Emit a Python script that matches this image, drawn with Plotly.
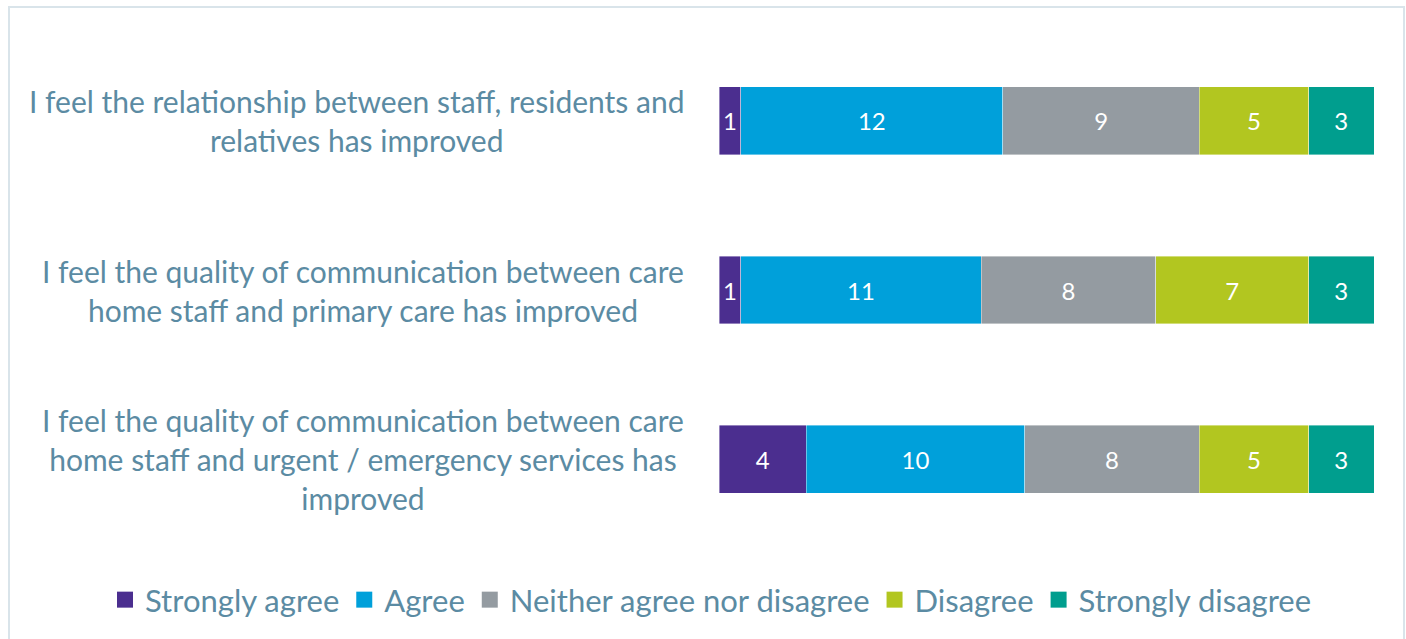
import plotly.graph_objects as go

# Survey statements (top to bottom) and response counts per category
statements = [
    "I feel the relationship between staff, residents and<br>relatives has improved",
    "I feel the quality of communication between care<br>home staff and primary care has improved",
    "I feel the quality of communication between care<br>home staff and urgent / emergency services has<br>improved",
]
responses = ["Strongly agree", "Agree", "Neither agree nor disagree", "Disagree", "Strongly disagree"]
strongly_agree = [1, 1, 4]
agree = [12, 11, 10]
neither = [9, 8, 8]
disagree = [5, 7, 5]
strongly_disagree = [3, 3, 3]
colors = ["#4b2e8f", "#00a0da", "#949ba1", "#b2c620", "#009e8e"]

series = [strongly_agree, agree, neither, disagree, strongly_disagree]
cat_ids = ["s1", "s2", "s3"]

W, H = 1406, 639
FONT = "Lato"
TEXT_COLOR = "#5b8ba3"

# plot region in pixels
PX0, PX1 = 719, 1374
PY0, PY1 = 36, 544

fig = go.Figure()
for name, vals, col in zip(responses, series, colors):
    fig.add_trace(go.Bar(
        y=cat_ids, x=vals, orientation="h", name=name,
        marker=dict(color=col, line=dict(color="rgba(255,255,255,0.5)", width=0.8)),
        text=[str(v) for v in vals], textposition="inside",
        insidetextanchor="middle", constraintext="none",
        textfont=dict(color="white", size=24, family=FONT),
        showlegend=False, hoverinfo="skip",
    ))
    # legend entry with a larger square swatch
    fig.add_trace(go.Scatter(
        x=[None], y=[None], mode="markers", name=name,
        marker=dict(symbol="square", size=16, color=col),
    ))

# Category labels, centered lines, right-aligned block
for cid, txt in zip(cat_ids, statements):
    fig.add_annotation(
        x=(PX0 - 33) / W, xref="paper", y=cid, yref="y",
        text=txt, showarrow=False, xanchor="right", yanchor="middle",
        align="center", font=dict(family=FONT, size=30, color=TEXT_COLOR),
    )

# Outer chart border
fig.add_shape(
    type="rect", xref="paper", yref="paper",
    x0=9 / W, x1=1404 / W, y0=-0.05, y1=1 - 7 / H,
    line=dict(color="#d9e4ea", width=2), fillcolor="rgba(0,0,0,0)", layer="below",
)

fig.update_layout(
    width=W, height=H,
    margin=dict(l=0, r=0, t=0, b=0),
    barmode="stack", bargap=0.6,
    plot_bgcolor="rgba(0,0,0,0)", paper_bgcolor="white",
    font=dict(family=FONT, color=TEXT_COLOR),
    xaxis=dict(range=[0, 30], visible=False, fixedrange=True,
               domain=[PX0 / W, PX1 / W]),
    yaxis=dict(categoryorder="array", categoryarray=cat_ids[::-1],
               showticklabels=False, showgrid=False, zeroline=False, fixedrange=True,
               domain=[1 - PY1 / H, 1 - PY0 / H]),
    legend=dict(orientation="h", x=711 / W, xanchor="center",
                y=1 - 600 / H, yanchor="middle", traceorder="normal",
                font=dict(family=FONT, size=31, color=TEXT_COLOR),
                itemwidth=30, tracegroupgap=0, bgcolor="rgba(0,0,0,0)"),
    showlegend=True,
)

fig.write_html("out.html")
